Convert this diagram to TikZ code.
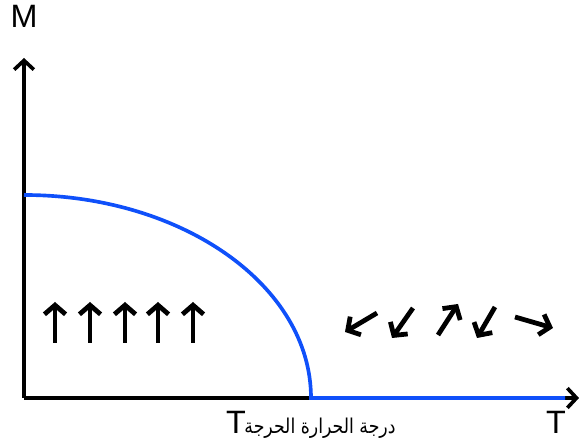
\documentclass[tikz,border=0pt]{standalone}
\usepackage{fontspec}
\setmainfont{Liberation Sans}
\newfontfamily\arabicfont[Script=Arabic]{DejaVu Sans}
\TeXXeTstate=1
\usetikzlibrary{arrows.meta}
\definecolor{curveblue}{RGB}{15,80,250}

\begin{document}
\begin{tikzpicture}[x=0.025cm, y=0.025cm,
  axis/.style={line width=2.6pt, -{Straight Barb[length=6.5pt,width=14pt]}},
  spin/.style={line width=3.4pt, -{Straight Barb[length=6.5pt,width=15pt]}},
  lbl/.style={font=\fontsize{23}{26}\selectfont, inner sep=0pt}]
\useasboundingbox (0,0) rectangle (579,445);
\coordinate (O) at (24,47);
\coordinate (ytop) at (24,387);
\coordinate (xend) at (579,47);
\coordinate (Mzero) at (24,250);
\coordinate (Tc) at (311,47);
\coordinate (blueend) at (565,47);
\draw[axis] (O) -- (ytop);
\draw[axis] (O) -- (xend);
\draw[curveblue, line width=2.6pt] (Mzero) arc[start angle=90, end angle=0, x radius=287, y radius=203] -- (blueend);
% ordered spins
\foreach \x in {55,90,125,158,193} \draw[spin] (\x,102) -- (\x,143);
% disordered spins
\foreach \a/\b/\c/\d in {377/132/345/113, 413/137/392/107, 438/110/458/141, 495/138/477/107, 515/128/553/117}
  \draw[spin] (\a,\b) -- (\c,\d);
\node[lbl] (Mlbl) at (24,429) {M};
\node[lbl] (Tclbl) at (236,23) {T};
\node[font=\arabicfont\fontsize{14.5}{16}\selectfont, inner sep=0pt, xscale=0.85, transform shape] (Tcsub) at (320,17) {\beginR درجة الحرارة الحرجة\endR};
\node[lbl] (Tlbl) at (556,23) {T};
\end{tikzpicture}
\end{document}
